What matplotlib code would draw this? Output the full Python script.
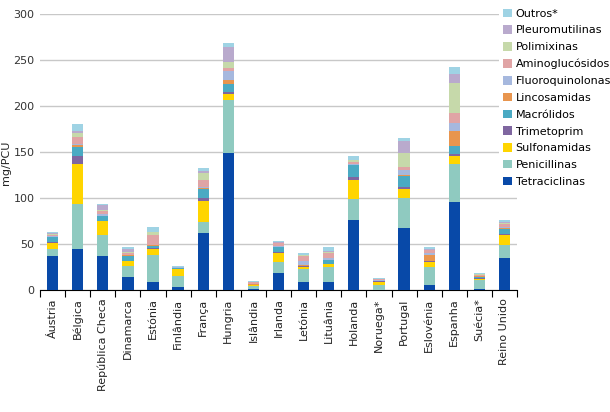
import matplotlib
matplotlib.use("Agg")
import matplotlib.pyplot as plt
import numpy as np

plt.rcParams['font.family'] = ['DejaVu Sans']

paises = ['Áustria', 'Bélgica', 'República Checa', 'Dinamarca', 'Estónia',
          'Finlândia', 'França', 'Hungria', 'Islândia', 'Irlanda', 'Letónia',
          'Lituânia', 'Holanda', 'Noruega*', 'Portugal', 'Eslovénia',
          'Espanha', 'Suécia*', 'Reino Unido']

# mg/PCU por classe (de baixo para cima)
tetraciclinas    = [37, 45, 37, 14.5, 9, 3, 62.5, 149, 1, 19, 9, 9, 76, 0.5, 67, 6, 95.5, 1, 35]
penicilinas      = [8, 49, 22.5, 12, 29.5, 12.5, 11.5, 58, 3.5, 11, 13.5, 16, 22.5, 5.5, 33, 19, 41.5, 10, 14.5]
sulfonamidas     = [6, 43.5, 15, 5, 6.5, 7, 23, 6.5, 0.5, 10, 2.5, 3, 21, 3, 10, 5, 9, 1.5, 10]
trimetoprim      = [1, 8, 0.5, 0.5, 1, 0.3, 3, 2, 0.3, 1.5, 1, 0.5, 3, 0.5, 1.5, 1.5, 1.5, 1, 1.5]
macrolidos       = [5.5, 10, 5.5, 5, 2, 1.5, 10, 8, 0.3, 5, 0.5, 4, 13, 0.3, 12.5, 0.5, 9.5, 1, 5]
lincosamidas     = [0.5, 2, 0.5, 1, 1, 0, 1, 4.5, 1, 0.5, 0.5, 0.5, 0.5, 0.5, 1.5, 6.5, 16, 0.5, 1.5]
fluoroquinolonas = [0.5, 1.5, 2, 0.5, 0.5, 0.3, 0.5, 10, 0.5, 0.5, 5, 1.5, 1, 0.3, 5, 1.5, 8.5, 0.5, 1]
aminoglucosidos  = [1, 7, 3, 2, 10.5, 0.3, 8, 3, 1.5, 3.5, 4.5, 5.5, 2, 1.5, 3, 3.5, 10.5, 1, 3]
polimixinas      = [1.5, 4.5, 1, 0.5, 3, 0, 8, 7, 0, 0.5, 1.5, 1.5, 2, 0, 15, 0.5, 33.5, 0.5, 1]
pleuromutilinas  = [0.5, 2.5, 5, 4, 0.5, 0, 1.5, 16, 0, 0.5, 0.5, 0.5, 0.5, 0, 13, 0.5, 9.5, 0, 1]
outros           = [1.5, 7, 2, 2, 4.5, 1.5, 3.5, 5, 1.5, 1.5, 2, 5, 4, 1.5, 3.5, 2, 7, 1.5, 3]

series = [
    ('Tetraciclinas', tetraciclinas, '#0849a8'),
    ('Penicillinas', penicilinas, '#8fcac0'),
    ('Sulfonamidas', sulfonamidas, '#ffd500'),
    ('Trimetoprim', trimetoprim, '#7f66a0'),
    ('Macrólidos', macrolidos, '#4aaac3'),
    ('Lincosamidas', lincosamidas, '#e8954e'),
    ('Fluoroquinolonas', fluoroquinolonas, '#a6b8de'),
    ('Aminoglucósidos', aminoglucosidos, '#e0a4a5'),
    ('Polimixinas', polimixinas, '#c6d9aa'),
    ('Pleuromutilinas', pleuromutilinas, '#b9aacd'),
    ('Outros*', outros, '#9fd3e4'),
]

fig = plt.figure(figsize=(6.1, 4.12), dpi=100)
ax = fig.add_axes([0.0656, 0.296, 0.782, 0.670])

x = np.arange(len(paises))
bottom = np.zeros(len(paises))
handles = []
for nome, vals, cor in series:
    v = np.array(vals, dtype=float)
    h = ax.bar(x, v, width=0.45, bottom=bottom, color=cor, label=nome,
               linewidth=0, zorder=3)
    handles.append(h)
    bottom += v

ax.set_xlim(-0.5, len(paises) - 0.5)
ax.set_ylim(0, 300)
ax.set_yticks(range(0, 301, 50))
ax.yaxis.grid(True, color='#c8c8c8', linewidth=1)
ax.set_axisbelow(True)
for s in ['top', 'right', 'left']:
    ax.spines[s].set_visible(False)
ax.spines['bottom'].set_color('black')
ax.tick_params(axis='y', length=0, labelsize=8, labelcolor='#333333', pad=4)

# ticks nas fronteiras das categorias, rótulos no centro
ax.set_xticks(np.arange(-0.5, len(paises), 1.0))
ax.set_xticklabels([])
ax.tick_params(axis='x', which='major', length=5, color='black')
ax.set_xticks(x, minor=True)
ax.set_xticklabels(paises, minor=True, rotation=90, fontsize=8, color='#222222')
ax.tick_params(axis='x', which='minor', length=0, pad=6)

fig.text(0.002, 1 - 163 / 412, 'mg/PCU', rotation=90, ha='left', va='center',
         fontsize=8, color='#222222')

leg = fig.legend(handles[::-1], [s[0] for s in series][::-1],
                 loc='upper left', bbox_to_anchor=(0.818, 0.99),
                 frameon=True, fontsize=8, handlelength=0.8, handleheight=0.8,
                 handletextpad=0.3, labelspacing=0.6, borderaxespad=0,
                 borderpad=0.4)
leg.get_frame().set_edgecolor('none')
leg.get_frame().set_facecolor('white')
leg.get_frame().set_alpha(1)

fig.savefig('out.png', dpi=100)
